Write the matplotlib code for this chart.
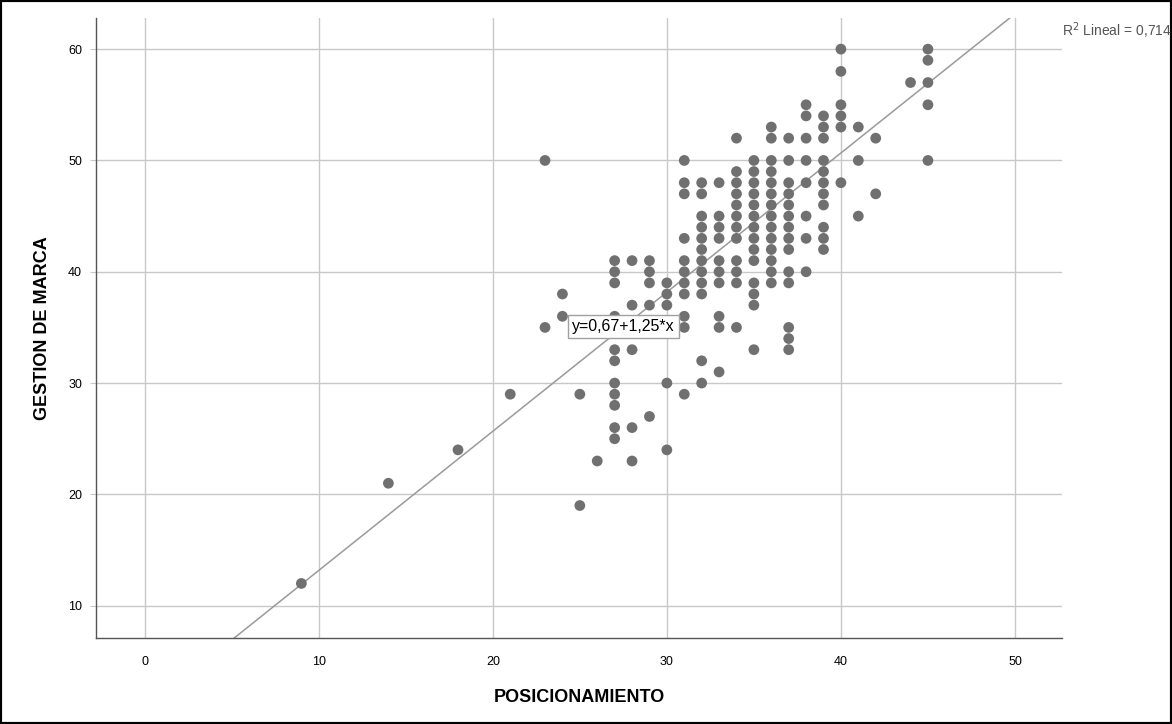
import matplotlib.pyplot as plt
from matplotlib.patches import Rectangle

plt.rcParams['font.family'] = ['Liberation Sans', 'DejaVu Sans']

# Scores, one column of points per POSICIONAMIENTO value
pos_values = [9, 14, 18, 21, 23, 24, 25, 26, 27, 28, 29, 30, 31, 32, 33, 34,
              35, 36, 37, 38, 39, 40, 41, 42, 44, 45]
gestion_by_pos = [
    [12],
    [21],
    [24],
    [29],
    [50, 35],
    [38, 36],
    [29, 19],
    [23],
    [41, 40, 39, 36, 33, 32, 30, 29, 28, 26, 25],
    [41, 37, 33, 26, 23],
    [41, 40, 39, 37, 27],
    [39, 38, 37, 30, 24],
    [50, 48, 47, 43, 41, 40, 39, 38, 36, 35, 29],
    [48, 47, 45, 44, 43, 42, 41, 40, 39, 38, 32, 30],
    [48, 45, 44, 43, 41, 40, 39, 36, 35, 31],
    [52, 49, 48, 47, 46, 45, 44, 43, 41, 40, 39, 35],
    [50, 49, 48, 47, 46, 45, 44, 43, 42, 41, 39, 38, 37, 33],
    [53, 52, 50, 49, 48, 47, 46, 45, 44, 43, 42, 41, 40, 39],
    [52, 50, 48, 47, 46, 45, 44, 43, 42, 40, 39, 35, 34, 33],
    [55, 54, 52, 50, 48, 45, 43, 40],
    [54, 53, 52, 50, 49, 48, 47, 46, 44, 43, 42],
    [60, 58, 55, 54, 53, 48],
    [53, 50, 45],
    [52, 47],
    [57],
    [60, 59, 57, 55, 50],
]

# fitted line reported by SPSS
intercept = 0.67
slope = 1.25
r2_label = "0,714"

x_ticks = [0, 10, 20, 30, 40, 50]
y_ticks = [10, 20, 30, 40, 50, 60]

x = []
y = []
for p, ys in zip(pos_values, gestion_by_pos):
    x += [p] * len(ys)
    y += ys

fig = plt.figure(figsize=(11.72, 7.24), dpi=100)
ax = fig.add_axes([0.0819, 0.1188, 0.8242, 0.8564])

ax.scatter(x, y, s=60, color='#707070', edgecolors='none', zorder=3)
ax.axline((0, intercept), slope=slope, color='#9a9a9a', lw=1.1, zorder=2)

ax.set_xlim(-2.8, 52.7)
ax.set_ylim(7.1, 62.8)
ax.set_xticks(x_ticks)
ax.set_yticks(y_ticks)
ax.grid(True, color='#c8c8c8', lw=1)
ax.set_axisbelow(True)

for side in ['top', 'right']:
    ax.spines[side].set_visible(False)
for side in ['left', 'bottom']:
    ax.spines[side].set_color('#555555')
    ax.spines[side].set_linewidth(1)

ax.tick_params(axis='y', length=4, color='#c8c8c8', pad=6, labelsize=9)
ax.tick_params(axis='x', length=0, pad=13, labelsize=9)

ax.set_xlabel("POSICIONAMIENTO", fontsize=13, fontweight='bold', labelpad=15)
ax.set_ylabel("GESTION DE MARCA", fontsize=13, fontweight='bold', labelpad=12)

ax.text(27.5, 35.1, "y=0,67+1,25*x", fontsize=11.5, ha='center', va='center', zorder=4,
        bbox=dict(boxstyle='square,pad=0.25', facecolor='white', edgecolor='#a0a0a0', lw=1))

fig.text(0.906, 0.958, r"R$^2$ Lineal = " + r2_label, fontsize=10, color='#555555',
         ha='left', va='center')

fig.patches.append(Rectangle((0, 0), 1, 1, transform=fig.transFigure, fill=False,
                             edgecolor='black', lw=3))

plt.savefig("out.png", dpi=100)
